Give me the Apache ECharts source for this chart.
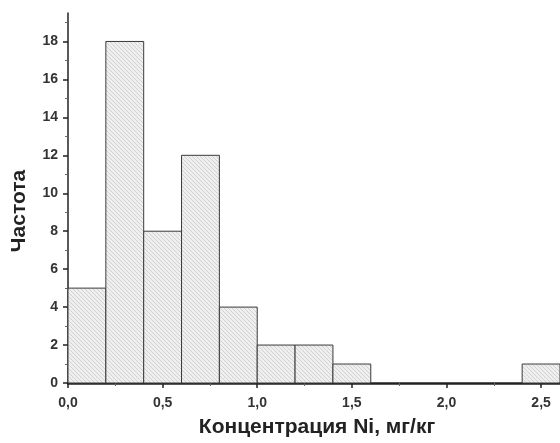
<!DOCTYPE html>
<html>
<head>
<meta charset="utf-8">
<script src="https://cdn.jsdelivr.net/npm/echarts@6/dist/echarts.min.js"></script>
<style>
  html, body { margin: 0; padding: 0; background: #fff; }
  #chart { width: 560px; height: 443px; }
</style>
</head>
<body>
<div id="chart"></div>
<script>
// Histogram bins of Ni concentration (mg/kg) and their counts
const binStarts = [0.0, 0.2, 0.4, 0.6, 0.8, 1.0, 1.2, 1.4, 2.4];
const binEnds   = [0.2, 0.4, 0.6, 0.8, 1.0, 1.2, 1.4, 1.6, 2.6];
const counts    = [5, 18, 8, 12, 4, 2, 2, 1, 1];

// Axis ticks
const yMajorTicks = [0, 2, 4, 6, 8, 10, 12, 14, 16, 18];
const yMinorTicks = [1, 3, 5, 7, 9, 11, 13, 15, 17, 19];
const xMajorTicks = [0, 0.5, 1.0, 1.5, 2.0, 2.5];
const xMinorTicks = [0.25, 0.75, 1.25, 1.75, 2.25];

const xTitle = 'Концентрация Ni, мг/кг';
const yTitle = 'Частота';

// Diagonal hatch tile used as the bar fill
function hatchTile() {
  const s = 4;
  const c = document.createElement('canvas');
  c.width = s; c.height = s;
  const g = c.getContext('2d');
  g.fillStyle = '#efefef';
  g.fillRect(0, 0, s, s);
  g.strokeStyle = '#d2d2d2';
  g.lineWidth = 1;
  g.beginPath();
  g.moveTo(-1, -1); g.lineTo(s + 1, s + 1);
  g.moveTo(-1, s - 1); g.lineTo(1, s + 1);
  g.moveTo(s - 1, -1); g.lineTo(s + 1, 1);
  g.stroke();
  return c;
}
const hatch = { image: hatchTile(), repeat: 'repeat' };

const bins = binStarts.map((s, i) => [s, binEnds[i], counts[i]]);

const font = '"Liberation Sans", Arial, sans-serif';
const fmtComma = v => Number(v).toFixed(1).replace('.', ',');

const chart = echarts.init(document.getElementById('chart'), null, { renderer: 'canvas' });
chart.setOption({
  animation: false,
  backgroundColor: '#ffffff',
  grid: { left: 68, right: 0, top: 13, bottom: 60, containLabel: false },
  graphic: [
    {
      type: 'text', left: null, x: 19, y: 211, rotation: Math.PI / 2,
      style: { text: yTitle, fontFamily: font, fontWeight: 'bold', fontSize: 21, fill: '#222', align: 'center', verticalAlign: 'middle' }
    },
    {
      type: 'text', x: 317, y: 427,
      style: { text: xTitle, fontFamily: font, fontWeight: 'bold', fontSize: 21, fill: '#222', align: 'center', verticalAlign: 'middle' }
    }
  ],
  xAxis: [
    {
      type: 'value', min: 0, max: 2.6,
      axisLine: { show: true, onZero: false, lineStyle: { color: '#222', width: 2.5 } },
      axisTick: { show: true, customValues: xMajorTicks, length: 5, lineStyle: { color: '#222', width: 1.5 } },
      axisLabel: { customValues: xMajorTicks, formatter: fmtComma, fontFamily: font, fontWeight: 'bold', fontSize: 14, color: '#333', margin: 13 },
      splitLine: { show: false }
    },
    {
      type: 'value', min: 0, max: 2.6, position: 'bottom',
      axisLine: { show: false },
      axisTick: { show: true, customValues: xMinorTicks, length: 3, lineStyle: { color: '#666', width: 1 } },
      axisLabel: { show: false },
      splitLine: { show: false }
    }
  ],
  yAxis: [
    {
      type: 'value', min: 0, max: 19.5,
      axisLine: { show: true, lineStyle: { color: '#222', width: 1.5 } },
      axisTick: { show: true, customValues: yMajorTicks, length: 5, lineStyle: { color: '#222', width: 1.5 } },
      axisLabel: { customValues: yMajorTicks, fontFamily: font, fontWeight: 'bold', fontSize: 14, color: '#333', margin: 10 },
      splitLine: { show: false }
    },
    {
      type: 'value', min: 0, max: 19.5, position: 'left',
      axisLine: { show: false },
      axisTick: { show: true, customValues: yMinorTicks, length: 3, lineStyle: { color: '#666', width: 1 } },
      axisLabel: { show: false },
      splitLine: { show: false }
    }
  ],
  series: [{
    type: 'custom',
    xAxisIndex: 0, yAxisIndex: 0,
    data: bins,
    encode: { x: [0, 1], y: 2 },
    renderItem: function (params, api) {
      const p0 = api.coord([api.value(0), api.value(2)]);
      const p1 = api.coord([api.value(1), 0]);
      return {
        type: 'rect',
        shape: { x: p0[0], y: p0[1], width: p1[0] - p0[0], height: p1[1] - p0[1] },
        style: { fill: hatch, stroke: '#3a3a3a', lineWidth: 1 }
      };
    }
  }]
});
</script>
</body>
</html>
